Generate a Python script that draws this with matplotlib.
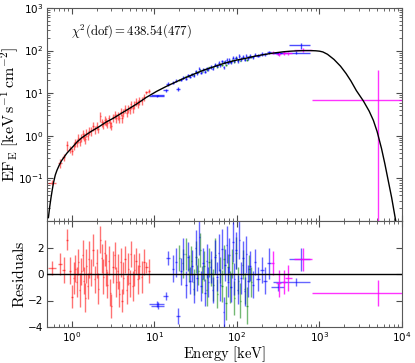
import matplotlib
matplotlib.use("Agg")
import matplotlib.pyplot as plt

# model curve (keV, keV/s/cm2)
model_E = [0.52, 0.54, 0.56, 0.58, 0.6, 0.63, 0.66, 0.7, 0.75, 0.8, 0.87, 0.95, 1.05, 1.15, 1.3,
           1.5, 1.75, 2.1, 2.6, 3.2, 4.0, 5.0, 6.2, 8.0, 10.6, 14, 20, 30, 40, 51, 65, 80, 100,
           128, 160, 200, 250, 295, 370, 450, 550, 650, 780, 900, 1000, 1100, 1250, 1500, 1800,
           2100, 2400, 2800, 3400, 4000, 4500, 5000, 5650, 6200, 6800, 7500, 8200, 8800]
model_F = [0.012, 0.022, 0.036, 0.055, 0.08, 0.12, 0.155, 0.2, 0.26, 0.31, 0.39, 0.47, 0.58, 0.71,
           0.88, 1.07, 1.3, 1.6, 2.1, 2.6, 3.4, 4.4, 5.7, 8.0, 11.0, 14.5, 20, 28, 35, 41, 48, 54,
           60, 66, 73, 79, 85, 89, 94, 97, 99, 100, 100, 99, 97, 93, 82, 62, 43, 29, 19.5, 11.5,
           6.6, 3.8, 2.3, 1.25, 0.5, 0.22, 0.09, 0.035, 0.013, 0.006]

# red instrument
red_E = [0.58, 0.72, 0.8, 0.88, 0.95, 1.0, 1.05, 1.1, 1.15, 1.2, 1.25, 1.3, 1.35, 1.4, 1.45, 1.5,
         1.55, 1.6, 1.7, 1.8, 1.9, 2.0, 2.1, 2.2, 2.3, 2.4, 2.5, 2.6, 2.7, 2.8, 2.9, 3.0, 3.15,
         3.3, 3.45, 3.6, 3.75, 3.9, 4.05, 4.2, 4.4, 4.6, 4.8, 5.0, 5.2, 5.45, 5.7, 6.0, 6.3, 6.6,
         7.0, 7.5, 8.0, 8.6]
red_dE = [0.06, 0.04, 0.03, 0.03, 0.02, 0.02, 0.02, 0.02, 0.02, 0.02, 0.02, 0.02, 0.02, 0.02,
          0.02, 0.02, 0.02, 0.02, 0.03, 0.03, 0.03, 0.03, 0.03, 0.03, 0.03, 0.03, 0.04, 0.04,
          0.04, 0.04, 0.04, 0.04, 0.05, 0.05, 0.05, 0.05, 0.05, 0.06, 0.06, 0.06, 0.07, 0.07,
          0.07, 0.08, 0.08, 0.08, 0.09, 0.1, 0.1, 0.1, 0.15, 0.15, 0.3, 0.3]
red_F = [0.08, 0.23, 0.31, 0.6, 0.49, 0.44, 0.59, 0.7, 0.68, 0.89, 0.73, 0.92, 1.11, 0.94, 0.82,
         1.18, 1.01, 1.33, 1.29, 1.68, 1.41, 1.74, 1.44, 2.9, 2.09, 1.88, 2.38, 2.18, 1.98, 2.55,
         1.96, 1.74, 2.73, 3.16, 2.65, 3.06, 2.58, 3.66, 2.62, 3.46, 4.29, 3.48, 4.46, 4.09, 5.49,
         4.41, 5.46, 6.27, 5.65, 6.74, 6.66, 8.21, 10.5, 11.5]
red_dF = [0.01, 0.05, 0.06, 0.15, 0.1, 0.09, 0.12, 0.15, 0.14, 0.2, 0.15, 0.2, 0.28, 0.2, 0.18,
          0.25, 0.22, 0.3, 0.28, 0.4, 0.3, 0.4, 0.3, 0.8, 0.45, 0.4, 0.55, 0.45, 0.42, 0.6, 0.45,
          0.4, 0.6, 0.7, 0.6, 0.65, 0.55, 0.8, 0.6, 0.75, 0.9, 0.75, 0.95, 0.85, 1.2, 0.9, 1.1,
          1.3, 1.1, 1.4, 1.3, 1.6, 1.0, 1.2]
red_r = [0.45, 0.75, 0.3, 2.6, 0.25, -1.7, -0.3, 0.4, -0.6, 0.9, -1.2, 0.2, 1.4, -0.5, -1.8, 0.6,
         -0.9, 1.1, 0.1, 1.8, -0.4, 0.8, -1.1, 2.6, 1.2, -0.2, 1.6, 0.3, -0.8, 1.0, -1.4, -2.4,
         0.5, 1.4, -0.6, 0.2, -1.5, 0.9, -2.0, -0.3, 1.1, -1.2, 0.4, -0.7, 1.5, -0.9, 0.3, 1.0,
         -0.4, 0.6, -0.2, 0.9, 0.5, 0.2]
red_dr = [0.5, 0.8, 1.0, 0.8, 1.0, 0.9, 1.2, 1.0, 1.1, 1.0, 1.3, 1.0, 1.2, 1.0, 1.1, 1.3, 1.0,
          1.4, 1.0, 1.2, 1.0, 1.1, 1.2, 1.0, 1.1, 1.3, 1.0, 1.2, 1.0, 1.1, 1.0, 0.9, 1.2, 1.0,
          1.1, 1.3, 1.0, 1.1, 0.9, 1.2, 1.0, 1.1, 1.2, 1.0, 1.0, 1.1, 1.2, 1.0, 1.1, 1.0, 1.2,
          1.0, 0.4, 0.9]

# blue instrument
blue_E = [10.8, 11.2, 13.8, 14.8, 19.5, 17, 18.5, 21, 22.5, 24, 25.5, 27, 28.5, 30, 31.5, 33, 35,
          37, 39, 41, 43, 45, 48, 51, 54, 57, 60, 63, 66, 69, 72, 75, 78, 81, 85, 89, 93, 97,
          102, 107, 112, 118, 124, 130, 137, 145, 155, 165, 180, 200, 220, 245, 315, 520, 600]
blue_dE = [2.3, 2.0, 1.0, 0.8, 1.0, 0.5, 0.5, 0.5, 0.5, 0.5, 0.6, 0.6, 0.6, 0.6, 0.7, 0.7, 0.7,
           0.8, 0.8, 0.8, 0.9, 0.9, 1.0, 1.0, 1.1, 1.2, 1.2, 1.3, 1.3, 1.4, 1.5, 1.5, 1.6, 1.7,
           1.8, 1.9, 2.0, 2.0, 2.2, 2.3, 2.4, 2.5, 2.6, 2.8, 3.0, 3.5, 4.5, 6, 8, 10, 12, 15, 55,
           250, 170]
blue_F = [8.6, 8.9, 11.8, 16.5, 12.5, 17.6, 19.7, 20.7, 23.9, 21.7, 26.3, 24.5, 27.8, 25.8, 33,
          29.3, 37.7, 30.4, 35.7, 32, 39, 36.2, 41.2, 38, 47, 43.9, 51.2, 44.8, 55.5, 40.3, 54.5,
          61.2, 51.7, 60.4, 52.7, 68.1, 57.8, 68.5, 57.2, 75.6, 64.1, 72.1, 61.8, 76.6, 68, 75,
          69.7, 80.8, 76.3, 83.7, 81.5, 92.4, 86.8, 90, 132]
blue_dF = [0.3, 0.3, 1.0, 1.4, 1.2, 1.4, 1.6, 1.6, 2.0, 1.8, 2.2, 2.0, 2.3, 2.1, 2.8, 2.4, 3.5,
           2.6, 3.0, 2.8, 3.3, 3.0, 3.5, 3.2, 4.0, 3.7, 4.5, 3.8, 5.0, 3.6, 4.8, 5.5, 4.5, 5.4,
           4.7, 6.2, 5.2, 6.4, 5.3, 7.2, 6.0, 6.8, 5.8, 7.4, 6.5, 7.0, 6.6, 7.5, 7.0, 7.5, 7.0,
           8.0, 6.0, 6.0, 20]
blue_r = [-2.25, -2.4, -1.65, 1.2, -3.2, 0.4, 0.9, 0.2, 1.5, -0.8, 1.3, -0.5, 0.6, -1.1, 2.0,
          -0.3, 2.8, -0.9, 0.8, -1.4, 1.0, -0.6, 0.5, -1.2, 1.3, -0.2, 1.6, -0.8, 1.9, -2.9, 0.7,
          2.2, -0.6, 1.4, -1.0, 2.4, -0.4, 1.8, -1.2, 2.6, -0.3, 1.2, -1.3, 1.5, -0.5, 0.6, -0.8,
          0.9, -0.4, 0.3, -0.5, 0.8, -0.95, -0.6, 1.1]
blue_dr = [0.25, 0.25, 0.3, 0.5, 0.6, 1.0, 1.1, 1.0, 1.2, 1.0, 1.1, 1.0, 1.2, 1.1, 1.3, 1.0, 1.4,
           1.1, 1.2, 1.0, 1.3, 1.1, 1.2, 1.0, 1.3, 1.1, 1.4, 1.2, 1.5, 1.2, 1.2, 1.4, 1.1, 1.3,
           1.1, 1.5, 1.2, 1.4, 1.1, 1.5, 1.2, 1.3, 1.1, 1.4, 1.2, 1.1, 1.0, 1.0, 0.9, 1.0, 1.0,
           1.2, 0.3, 0.3, 0.9]

# green instrument
green_E = [20, 22, 24, 26, 28, 30, 32, 34, 36, 38, 40, 43, 46, 49, 52, 55, 58, 62, 66, 70, 74, 78,
           83, 88, 93, 98, 104, 110, 117, 124, 132, 140, 150]
green_F = [20.7, 22.2, 24.7, 24.9, 27.6, 27.2, 31.1, 30.8, 34.7, 32.3, 36.1, 34.3, 40.2, 40.7,
           40.3, 46.5, 41.6, 47.7, 46.8, 53.8, 46.7, 55.4, 53.2, 60.3, 54.1, 65.9, 61.4, 58.5,
           68.8, 64.3, 61.2, 72.4, 70.8]
green_r = [1.2, 0.8, 1.5, 0.4, 1.0, -0.6, 1.3, 0.2, 1.8, -0.4, 0.6, -1.2, 0.9, 0.1, -0.8, 1.4,
           -1.5, 0.3, -0.9, 1.1, -2.2, 0.5, -1.0, 0.8, -1.8, 1.6, -0.5, -2.0, 0.7, -1.1, -2.4,
           0.4, -0.6]
green_dr = [1.0, 1.1, 1.2, 1.0, 1.1, 1.0, 1.2, 1.0, 1.3, 1.0, 1.1, 1.2, 1.1, 1.0, 1.2, 1.3, 1.1,
            1.0, 1.2, 1.1, 1.3, 1.0, 1.2, 1.1, 1.3, 1.2, 1.0, 1.3, 1.1, 1.2, 1.4, 1.0, 1.1]

# magenta instrument
mag_E = [270, 320, 370, 420, 640, 5100]
mag_dE_lo = [10, 20, 20, 40, 150, 4280]
mag_dE_hi = [10, 20, 20, 40, 180, 4900]
mag_F = [90, 84, 88, 87, 105, 7]
mag_dF_lo = [8, 8, 8, 8, 12, 6.995]
mag_dF_hi = [8, 8, 8, 8, 12, 28]
mag_r = [0.8, -0.7, -0.6, -0.3, 1.1, -1.45]
mag_dr = [0.9, 1.0, 0.9, 0.95, 0.9, 1.0]

plt.rcParams['mathtext.fontset'] = 'dejavusans'

fig = plt.figure(figsize=(4.15, 3.63), dpi=100)
ax1 = fig.add_axes([47/415, 1-221/363, 355/415, 213/363])
ax2 = fig.add_axes([47/415, 1-327/363, 355/415, 106/363], sharex=ax1)

ebkw = dict(fmt='none', capsize=0, elinewidth=1.0)

ax1.errorbar(red_E, red_F, xerr=red_dE, yerr=red_dF, ecolor='red', alpha=0.55, **ebkw)
ax1.errorbar(green_E, green_F, xerr=[e*0.02 for e in green_E],
             yerr=[f*0.05 for f in green_F], ecolor='green', alpha=0.6, **ebkw)
ax1.errorbar(blue_E, blue_F, xerr=blue_dE, yerr=blue_dF, ecolor='blue', alpha=0.7, **ebkw)
ax1.errorbar(mag_E, mag_F, xerr=[mag_dE_lo, mag_dE_hi], yerr=[mag_dF_lo, mag_dF_hi],
             ecolor='magenta', alpha=0.8, **ebkw)
ax1.plot(model_E, model_F, color='black', lw=1.0, zorder=5)

ax2.errorbar(red_E, red_r, xerr=red_dE, yerr=red_dr, ecolor='red', alpha=0.55, **ebkw)
ax2.errorbar(green_E, green_r, xerr=[e*0.02 for e in green_E], yerr=green_dr,
             ecolor='green', alpha=0.55, **ebkw)
ax2.errorbar(blue_E, blue_r, xerr=blue_dE, yerr=blue_dr, ecolor='blue', alpha=0.6, **ebkw)
ax2.errorbar(mag_E, mag_r, xerr=[mag_dE_lo, mag_dE_hi], yerr=mag_dr,
             ecolor='magenta', alpha=0.8, **ebkw)
ax2.axhline(0, color='black', lw=1.0, zorder=5)

ax1.set_xscale('log')
ax1.set_yscale('log')
ax1.set_xlim(0.5, 1e4)
ax1.set_ylim(0.01, 1000)
ax2.set_ylim(-4, 4)
ax2.set_yticks([-4, -2, 0, 2])

for ax in (ax1, ax2):
    ax.tick_params(which='both', direction='in', top=True, right=True,
                   labelsize=7.5, color='0.3', pad=2.5)
    ax.tick_params(which='major', length=4)
    ax.tick_params(which='minor', length=2)
    for s in ax.spines.values():
        s.set_color('0.35')
ax1.tick_params(labelbottom=False)
ax1.set_yticks([0.1, 1, 10, 100, 1000])
ax2.tick_params(axis='y', which='minor', left=False, right=False)

ax1.set_ylabel(r'$\mathrm{EF_E\ [keV\,s^{-1}\,cm^{-2}]}$', fontsize=11.5,
               math_fontfamily='cm')
ax2.set_ylabel(r'$\mathrm{Residuals}$', fontsize=11.5, math_fontfamily='cm')
ax2.set_xlabel(r'$\mathrm{Energy\ [keV]}$', fontsize=10.5, math_fontfamily='cm')
ax1.yaxis.set_label_coords(-0.072, 0.5)
ax2.yaxis.set_label_coords(-0.055, 0.5)
ax2.xaxis.set_label_coords(0.5, -0.16)
ax1.text(0.068, 0.875, r'$\chi^2(\mathrm{dof}) = 438.54(477)$', transform=ax1.transAxes,
         fontsize=9.2, math_fontfamily='cm')

plt.savefig('out.png', dpi=100)
